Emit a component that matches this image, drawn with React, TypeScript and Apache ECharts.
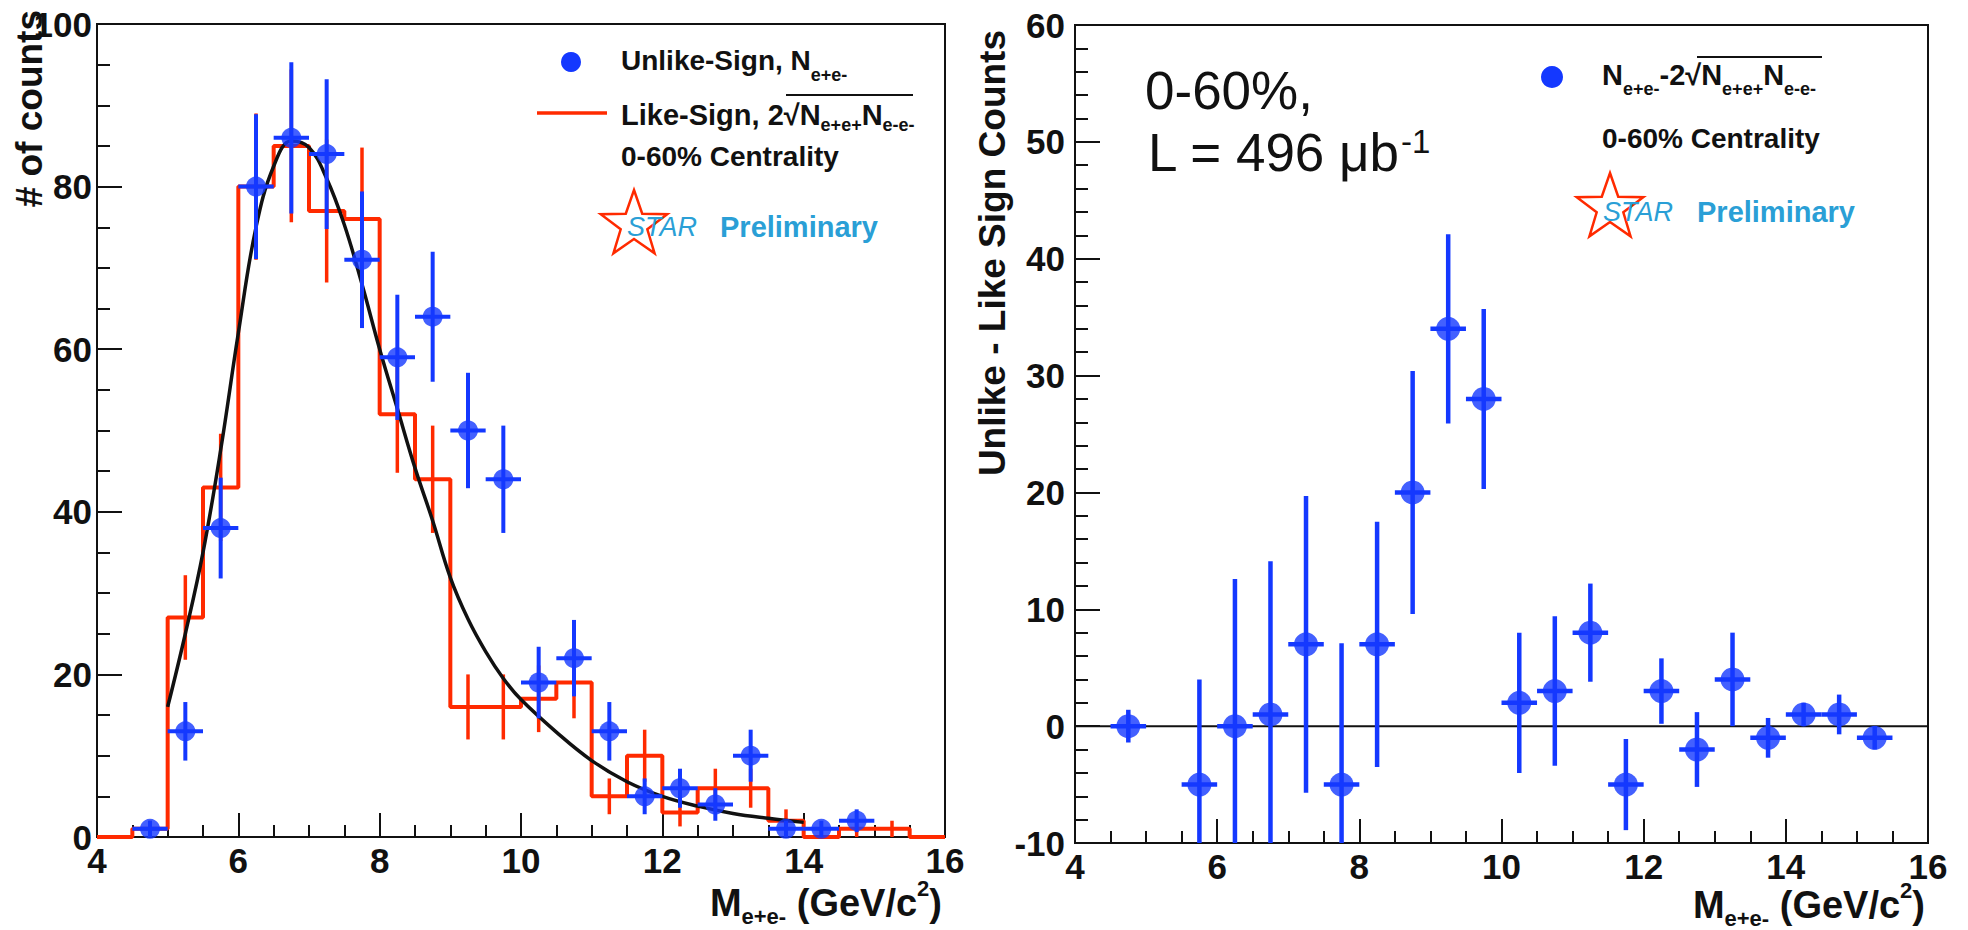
import { useEffect, useRef } from 'react';
import * as echarts from 'echarts';

const FONT = '"Liberation Sans", Arial, Helvetica, sans-serif';
const INK = '#111111';
const BLUE = '#1438ff';
const RED = '#ff2a00';
const CYAN = '#2a9fd6';

// Invariant-mass bins (GeV/c^2), 0.5 GeV wide, centres
const binCenters = [4.25, 4.75, 5.25, 5.75, 6.25, 6.75, 7.25, 7.75, 8.25, 8.75, 9.25, 9.75,
  10.25, 10.75, 11.25, 11.75, 12.25, 12.75, 13.25, 13.75, 14.25, 14.75, 15.25, 15.75];
const BIN_HALF = 0.25;

// Unlike-sign pairs N_{e+e-} (null = not drawn)
const unlikeCounts = [null, 1, 13, 38, 80, 86, 84, 71, 59, 64, 50, 44, 19, 22, 13, 5, 6, 4, 10, 1, 1, 2, null, null];
const unlikeErrors = [null, 1, 3.6, 6.2, 8.9, 9.3, 9.2, 8.4, 7.7, 8, 7.1, 6.6, 4.4, 4.7, 3.6, 2.2, 2.4, 2, 3.2, 1, 1, 1.4, null, null];

// Like-sign 2*sqrt(N++ N--)
const likeCounts = [0, 1, 27, 43, 80, 85, 77, 76, 52, 44, 16, 16, 17, 19, 5, 10, 3, 6, 6, 2, 0, 1, 1, 0];
const likeErrors = [0, 1, 5.2, 6.6, 9, 9.4, 8.8, 8.8, 7.2, 6.6, 4, 4, 4.1, 4.4, 2.2, 3.2, 1.7, 2.4, 2.4, 1.4, 0, 1, 1, 0];

// Fit curve
const fitMass = [5.0, 5.25, 5.5, 5.75, 6.0, 6.25, 6.5, 6.75, 7.0, 7.25, 7.5, 7.75, 8.0, 8.25, 8.5, 8.75,
  9.0, 9.25, 9.5, 9.75, 10.0, 10.5, 11.0, 11.5, 12.0, 12.5, 13.0, 13.5, 14.0];
const fitCounts = [16, 25, 35, 47.6, 62, 75, 82.5, 85.6, 84.8, 81, 75.3, 68, 60, 52.7, 45.4, 38.9,
  31.9, 26.8, 22.8, 19.5, 16.9, 12.9, 9.4, 6.8, 5, 3.8, 2.9, 2.3, 1.8];

// Unlike - Like
const diffCounts = [null, 0, -14, -5, 0, 1, 7, -5, 7, 20, 34, 28, 2, 3, 8, -5, 3, -2, 4, -1, 1, 1, -1, null];
const diffErrors = [null, 1.4, 6.3, 9, 12.6, 13.1, 12.7, 12.1, 10.5, 10.4, 8.1, 7.7, 6, 6.4, 4.2, 3.9, 2.8, 3.2, 4, 1.7, 1, 1.7, 1, null];

// Axes
const massMin = 4, massMax = 16, massStep = 2;
const countsMin = 0, countsMax = 100, countsStep = 20;
const diffMin = -10, diffMax = 60, diffStep = 10;

function pointsOf(values: (number | null)[], errors: (number | null)[]) {
  const out: number[][] = [];
  binCenters.forEach((c, i) => {
    const v = values[i];
    if (v === null || v === undefined) return;
    out.push([c, v, (errors[i] as number) || 0]);
  });
  return out;
}

function errorBars(gi: number, values: (number | null)[], errors: (number | null)[], color: string, width: number, withX: boolean, z: number, skipZero: boolean) {
  const data = pointsOf(values, errors).filter((d) => !(skipZero && d[1] === 0 && d[2] === 0));
  return {
    type: 'custom',
    xAxisIndex: gi,
    yAxisIndex: gi,
    z,
    silent: true,
    data,
    encode: { x: 0, y: 1 },
    renderItem: (params: any, api: any) => {
      const x = api.value(0), y = api.value(1), e = api.value(2);
      const cs = params.coordSys;
      const top = cs.y, bottom = cs.y + cs.height;
      const p = api.coord([x, y]);
      if (p[1] < top - 0.5 || p[1] > bottom + 0.5) return null;
      const clamp = (v: number) => Math.max(top, Math.min(bottom, v));
      const children: any[] = [];
      if (e > 0) {
        const hi = clamp(api.coord([x, y + e])[1]);
        const lo = clamp(api.coord([x, y - e])[1]);
        children.push({ type: 'line', shape: { x1: p[0], y1: hi, x2: p[0], y2: lo }, style: { stroke: color, lineWidth: width } });
      }
      if (withX) {
        const l = api.coord([x - BIN_HALF, y]);
        const r = api.coord([x + BIN_HALF, y]);
        children.push({ type: 'line', shape: { x1: l[0], y1: p[1], x2: r[0], y2: p[1] }, style: { stroke: color, lineWidth: width } });
      }
      return { type: 'group', children };
    },
  };
}

function starPoints(cx: number, cy: number, R: number, r: number) {
  const pts: number[][] = [];
  for (let k = 0; k < 10; k++) {
    const rad = k % 2 === 0 ? R : r;
    const a = -Math.PI / 2 + (k * Math.PI) / 5;
    pts.push([cx + rad * Math.cos(a), cy + rad * Math.sin(a)]);
  }
  return pts;
}

const bold = (size: number, fill = INK) => ({ fontSize: size, fontWeight: 'bold', fontFamily: FONT, fill });

function richText(x: number, y: number, text: string, size: number, subSize: number, subShift: number, supShift: number, align = 'left', weight = 'bold', lineHeight = 90) {
  return {
    type: 'text',
    x,
    y,
    z: 50,
    style: {
      text,
      align,
      verticalAlign: 'middle',
      fontSize: size,
      fontWeight: weight,
      fontFamily: FONT,
      fill: INK,
      lineHeight,
      rich: {
        s: { fontSize: subSize, fontWeight: weight, fontFamily: FONT, fill: INK, padding: [subShift * 2, 0, 0, 0] },
        p: { fontSize: subSize, fontWeight: weight, fontFamily: FONT, fill: INK, padding: [0, 0, supShift * 2, 0] },
      },
    },
  };
}

function axisCommon(min: number, max: number, interval: number, minorSplit: number, majorLen: number, minorLen: number, labelMargin: number) {
  return {
    type: 'value',
    min,
    max,
    interval,
    axisLine: { show: true, onZero: false, lineStyle: { color: INK, width: 2 } },
    axisTick: { show: true, inside: true, length: majorLen, lineStyle: { color: INK, width: 2 } },
    minorTick: { show: true, splitNumber: minorSplit, length: minorLen, lineStyle: { color: INK, width: 2 } },
    splitLine: { show: false },
    minorSplitLine: { show: false },
    axisLabel: { ...bold(35), color: INK, margin: labelMargin },
  };
}

export default function App() {
  const ref = useRef<HTMLDivElement>(null);
  useEffect(() => {
    if (!ref.current) return;
    const chart = echarts.init(ref.current, undefined, { renderer: 'svg' });

    const histData = likeCounts.map((c, i) => [binCenters[i] - BIN_HALF, c]);
    histData.push([binCenters[binCenters.length - 1] + BIN_HALF, likeCounts[likeCounts.length - 1]]);

    const option: any = {
      animation: false,
      backgroundColor: '#ffffff',
      grid: [
        { left: 97, top: 24, width: 848, height: 813, show: true, borderColor: INK, borderWidth: 2, backgroundColor: 'transparent' },
        { left: 1075, top: 25, width: 853, height: 818, show: true, borderColor: INK, borderWidth: 2, backgroundColor: 'transparent' },
      ],
      xAxis: [
        { ...axisCommon(massMin, massMax, massStep, 4, 24, 12, 6), gridIndex: 0 },
        { ...axisCommon(massMin, massMax, massStep, 4, 24, 12, 6), gridIndex: 1 },
      ],
      yAxis: [
        { ...axisCommon(countsMin, countsMax, countsStep, 4, 25, 13, 5), gridIndex: 0 },
        { ...axisCommon(diffMin, diffMax, diffStep, 5, 25, 13, 10), gridIndex: 1 },
      ],
      series: [
        {
          type: 'line', xAxisIndex: 0, yAxisIndex: 0, z: 2, step: 'end', data: histData,
          showSymbol: false, symbol: 'none', lineStyle: { color: RED, width: 4 }, silent: true,
        },
        errorBars(0, likeCounts, likeErrors, RED, 3.5, false, 2, true),
        {
          type: 'line', xAxisIndex: 0, yAxisIndex: 0, z: 3, smooth: 0.4,
          data: fitMass.map((m, i) => [m, fitCounts[i]]),
          showSymbol: false, symbol: 'none', lineStyle: { color: INK, width: 3.5 }, silent: true,
        },
        errorBars(0, unlikeCounts, unlikeErrors, BLUE, 4, true, 4, false),
        {
          type: 'scatter', xAxisIndex: 0, yAxisIndex: 0, z: 5, symbol: 'circle', symbolSize: 20,
          itemStyle: { color: BLUE }, data: pointsOf(unlikeCounts, unlikeErrors).map((d) => [d[0], d[1]]), silent: true,
        },
        {
          type: 'line', xAxisIndex: 1, yAxisIndex: 1, z: 2, data: [[massMin, 0], [massMax, 0]],
          showSymbol: false, symbol: 'none', lineStyle: { color: INK, width: 2 }, silent: true,
        },
        errorBars(1, diffCounts, diffErrors, BLUE, 4.5, true, 4, false),
        {
          type: 'scatter', xAxisIndex: 1, yAxisIndex: 1, z: 5, symbol: 'circle', symbolSize: 24, clip: true,
          itemStyle: { color: BLUE }, data: pointsOf(diffCounts, diffErrors).map((d) => [d[0], d[1]]), silent: true,
        },
      ],
      graphic: [
        // axis titles
        { type: 'text', x: 29, y: 10, rotation: Math.PI / 2, z: 50, style: { text: '# of counts', ...bold(37), align: 'right', verticalAlign: 'middle' } },
        { type: 'text', x: 992, y: 30, rotation: Math.PI / 2, z: 50, style: { text: 'Unlike - Like Sign Counts', ...bold(37), align: 'right', verticalAlign: 'middle' } },
        richText(942, 903, 'M{s|e+e-} (GeV/c{p|2})', 38, 22, 13, 15, 'right', 'bold', 34),
        richText(1925, 905, 'M{s|e+e-} (GeV/c{p|2})', 38, 22, 13, 15, 'right', 'bold', 34),

        // left legend
        { type: 'circle', z: 50, shape: { cx: 571, cy: 62, r: 10 }, style: { fill: BLUE } },
        richText(621, 60, 'Unlike-Sign, N{s|e+e-}', 28, 18, 15, 0),
        { type: 'line', z: 50, shape: { x1: 537, y1: 113, x2: 607, y2: 113 }, style: { stroke: RED, lineWidth: 3.5 } },
        richText(621, 115, 'Like-Sign, 2√N{s|e+e+}N{s|e-e-}', 29, 18, 10, 0),
        { type: 'line', z: 50, shape: { x1: 786, y1: 95, x2: 913, y2: 95 }, style: { stroke: INK, lineWidth: 2 } },
        { type: 'text', x: 621, y: 156, z: 50, style: { text: '0-60% Centrality', ...bold(28), verticalAlign: 'middle' } },
        { type: 'polygon', z: 50, shape: { points: starPoints(634, 225, 35, 14) }, style: { fill: 'none', stroke: RED, lineWidth: 2.5 } },
        { type: 'text', x: 627, y: 227, z: 51, style: { text: 'STAR', fontSize: 27, fontStyle: 'italic', fontWeight: 'normal', fontFamily: FONT, fill: CYAN, verticalAlign: 'middle' } },
        { type: 'text', x: 720, y: 227, z: 51, style: { text: 'Preliminary', ...bold(29, CYAN), verticalAlign: 'middle' } },

        // right legend
        { type: 'circle', z: 50, shape: { cx: 1552, cy: 77, r: 11 }, style: { fill: BLUE } },
        richText(1602, 75, 'N{s|e+e-}-2√N{s|e+e+}N{s|e-e-}', 29, 18, 14, 0),
        { type: 'line', z: 50, shape: { x1: 1697, y1: 57, x2: 1822, y2: 57 }, style: { stroke: INK, lineWidth: 2 } },
        { type: 'text', x: 1602, y: 138, z: 50, style: { text: '0-60% Centrality', ...bold(28), verticalAlign: 'middle' } },
        { type: 'polygon', z: 50, shape: { points: starPoints(1610, 208, 35, 14) }, style: { fill: 'none', stroke: RED, lineWidth: 2.5 } },
        { type: 'text', x: 1603, y: 212, z: 51, style: { text: 'STAR', fontSize: 27, fontStyle: 'italic', fontWeight: 'normal', fontFamily: FONT, fill: CYAN, verticalAlign: 'middle' } },
        { type: 'text', x: 1697, y: 212, z: 51, style: { text: 'Preliminary', ...bold(29, CYAN), verticalAlign: 'middle' } },

        // annotation
        { type: 'text', x: 1145, y: 90, z: 50, style: { text: '0-60%,', fontSize: 53, fontWeight: 'normal', fontFamily: FONT, fill: INK, verticalAlign: 'middle' } },
        richText(1148, 152, 'L = 496 μb{p|-1}', 53, 33, 0, 11, 'left', 'normal', 70),
      ],
    };
    chart.setOption(option);
    return () => chart.dispose();
  }, []);

  return <div ref={ref} style={{ position: 'fixed', left: 0, top: 0, width: 1968, height: 930, background: '#fff' }} />;
}
